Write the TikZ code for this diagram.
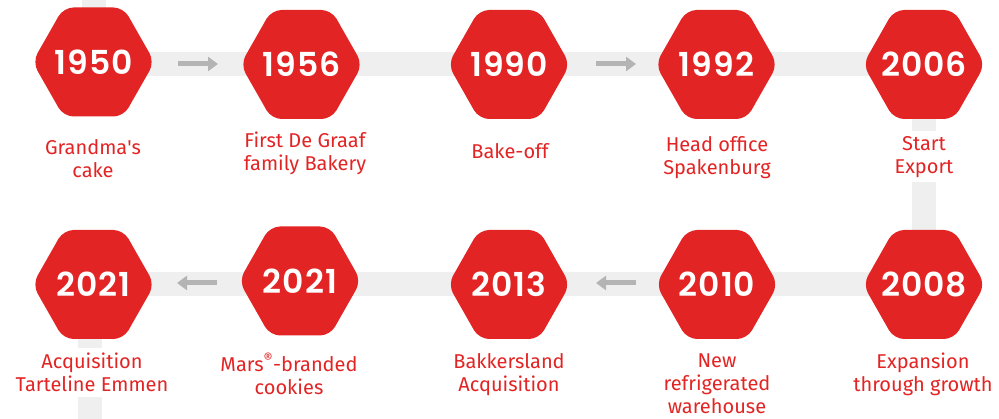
\documentclass[tikz,border=0pt]{standalone}
\usepackage{fontspec}
\setmainfont{Fira Sans}
\newfontfamily\yearfont{Poppins}[LetterSpace=3, BoldFont={* SemiBold}]
\usetikzlibrary{arrows.meta}
\definecolor{hexred}{HTML}{E32424}
\definecolor{bandgrey}{HTML}{EFEFEF}
\definecolor{arrowgrey}{HTML}{B4B4B4}
\newcommand\hexat[2]{\fill[hexred, rounded corners=10pt] (#1-61,#2) -- (#1-30,#2-54.5) -- (#1+30,#2-54.5) -- (#1+61,#2) -- (#1+30,#2+54.5) -- (#1-30,#2+54.5) -- cycle;}
\newcommand\lstrut{\rule{0pt}{14pt}}
\begin{document}
\begin{tikzpicture}[x=1pt,y=-1pt,
  band/.style={draw=bandgrey, line width=24pt},
  yeartext/.style={text=white, font=\yearfont\bfseries\fontsize{33}{33}\selectfont, inner sep=0pt, anchor=base},
  lbl/.style={text=hexred, font=\fontsize{20}{23}\selectfont, align=center, anchor=north, fill=white, inner xsep=3pt, inner ysep=5pt},
  flow/.style={draw=arrowgrey, line width=5pt, -{Triangle[length=10pt,width=14pt]}}]
\useasboundingbox (0,0) rectangle (999,419);
% hexagon centres
\coordinate (h1950) at (93.5,62);
\coordinate (h1956) at (301.5,64.5);
\coordinate (h1990) at (509,64.5);
\coordinate (h1992) at (716.5,64.5);
\coordinate (h2006) at (924,64.5);
\coordinate (h2008) at (924,284.5);
\coordinate (h2010) at (717,284.5);
\coordinate (h2013) at (509,284.5);
\coordinate (h2021b) at (300,281);
\coordinate (h2021a) at (93.5,284.5);
\coordinate (topend) at (94,0);
\coordinate (botend) at (90,419);
% bands
\draw[band] (topend) -- (h1950);
\draw[band] (h1950 |- h1956) -- (h2006);
\draw[band] (h2006) -- (h2008);
\draw[band] (h2008) -- (h2021a);
\draw[band] (botend |- h2021a) -- (botend);
% arrows
\coordinate (a1s) at (178,64); \coordinate (a1e) at (218,64);
\coordinate (a2s) at (596,64); \coordinate (a2e) at (636,64);
\coordinate (a3s) at (217,283); \coordinate (a3e) at (177,283);
\coordinate (a4s) at (636,283); \coordinate (a4e) at (596,283);
\draw[flow] (a1s) -- (a1e);
\draw[flow] (a2s) -- (a2e);
\draw[flow] (a3s) -- (a3e);
\draw[flow] (a4s) -- (a4e);
% labels
\node[lbl] (l1950) at (93,134) {\lstrut Grandma\textquotesingle s\\cake};
\node[lbl] (l1956) at (305,127) {\lstrut First De Graaf\\family Bakery};
\node[lbl] (l1990) at (510,138) {\lstrut Bake-off};
\node[lbl] (l1992) at (717,131) {\lstrut Head office\\Spakenburg};
\node[lbl] (l2006) at (924,131) {\lstrut Start\\Export};
\node[lbl] (l2008) at (923,348) {\lstrut Expansion\\through growth};
\node[lbl] (l2010) at (717,348) {\lstrut New\\refrigerated\\warehouse};
\node[lbl] (l2013) at (509,348) {\lstrut Bakkersland\\Acquisition};
\node[lbl] (l2021b) at (289,348) {\lstrut Mars\textsuperscript{®}-branded\\cookies};
\node[lbl] (l2021a) at (92,348) {\lstrut Acquisition\\Tarteline Emmen};
% hexagons
\hexat{93.5}{62}
\hexat{301.5}{64.5}
\hexat{509}{64.5}
\hexat{716.5}{64.5}
\hexat{924}{64.5}
\hexat{924}{284.5}
\hexat{717}{284.5}
\hexat{509}{284.5}
\hexat{300}{281}
\hexat{93.5}{284.5}
% years
\node[yeartext] (y1950) at (93.5,75) {1950};
\node[yeartext] (y1956) at (301.5,77) {1956};
\node[yeartext] (y1990) at (509,77) {1990};
\node[yeartext] (y1992) at (716.5,77) {1992};
\node[yeartext] (y2006) at (924,77) {2006};
\node[yeartext] (y2008) at (924,297) {2008};
\node[yeartext] (y2010) at (717,297) {2010};
\node[yeartext] (y2013) at (509,297) {2013};
\node[yeartext] (y2021b) at (300,293.5) {2021};
\node[yeartext] (y2021a) at (93.5,297) {2021};
\end{tikzpicture}
\end{document}
